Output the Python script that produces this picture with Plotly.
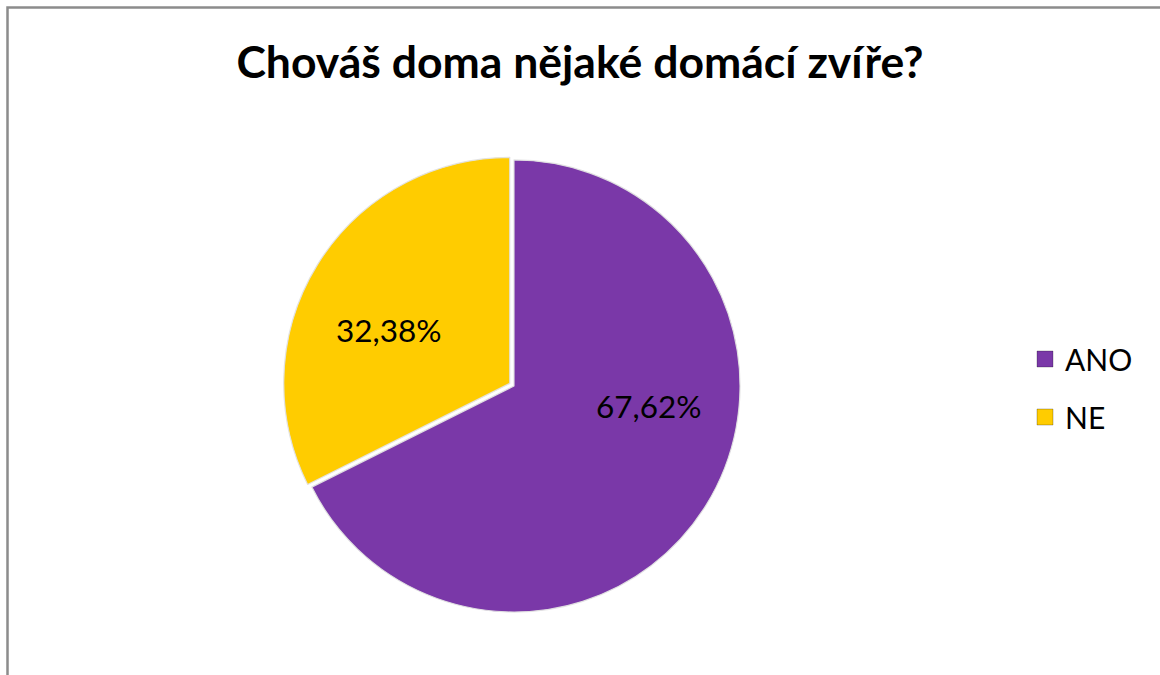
import plotly.graph_objects as go

# Survey answers: "Do you keep a pet at home?"
categories = ["ANO", "NE"]
shares = [67.62, 32.38]
colors = ["#7A38A8", "#FFCC00"]
title_text = "Chováš doma nějaké domácí zvíře?"

W, H = 1160, 675
FONT = "Lato"

# Where each slice's percentage label sits (pixels from top-left)
label_anchor_px = [(648, 406), (388, 330)]


def px_x(x):
    return x / W


def px_y(y):
    return 1 - y / H


def pct_text(v):
    return f"{v:.2f}".replace(".", ",") + "%"


fig = go.Figure()

fig.add_trace(go.Pie(
    labels=categories,
    values=shares,
    sort=False,
    direction="clockwise",
    rotation=0,
    pull=[0, 0.022],
    marker=dict(colors=colors, line=dict(color="rgba(225,225,225,0.95)", width=1.2)),
    textinfo="none",
    domain=dict(x=[px_x(283), px_x(745)], y=[px_y(617), px_y(155)]),
    showlegend=False,
    hoverinfo="label+percent",
))

# Legend entries as square markers, one group each so the gap can be set
for name, col in zip(categories, colors):
    fig.add_trace(go.Scatter(
        x=[None], y=[None], mode="markers", name=name,
        legendgroup=name,
        marker=dict(symbol="square", size=20, color=col,
                    line=dict(color="rgba(0,0,0,0.25)", width=1)),
    ))

annotations = [
    dict(x=px_x(ax), y=px_y(ay), xref="paper", yref="paper",
         text=pct_text(v), showarrow=False, xanchor="center", yanchor="middle",
         font=dict(family=FONT, size=31.5, color="#000000"))
    for v, (ax, ay) in zip(shares, label_anchor_px)
]

fig.update_layout(
    width=W, height=H,
    margin=dict(l=0, r=0, t=0, b=0),
    paper_bgcolor="#ffffff",
    plot_bgcolor="#ffffff",
    font=dict(family=FONT, color="#000000"),
    title=dict(
        text=f"<b>{title_text}</b>",
        x=px_x(580), y=px_y(62), xanchor="center", yanchor="middle",
        xref="paper", yref="container",
        font=dict(family=FONT, size=44.5, color="#000000"),
    ),
    xaxis=dict(visible=False),
    yaxis=dict(visible=False),
    legend=dict(
        x=px_x(1025), y=px_y(333), xanchor="left", yanchor="top",
        traceorder="grouped", tracegroupgap=16,
        font=dict(family=FONT, size=30, color="#000000"),
        bgcolor="rgba(0,0,0,0)",
    ),
    annotations=annotations,
    shapes=[
        dict(type="path", xref="paper", yref="paper",
             path=f"M {px_x(7.5)} 0 L {px_x(7.5)} {px_y(7.5)} L 1 {px_y(7.5)}",
             line=dict(color="#8c8c8c", width=2.5)),
    ],
)

fig.write_html("out.html")
